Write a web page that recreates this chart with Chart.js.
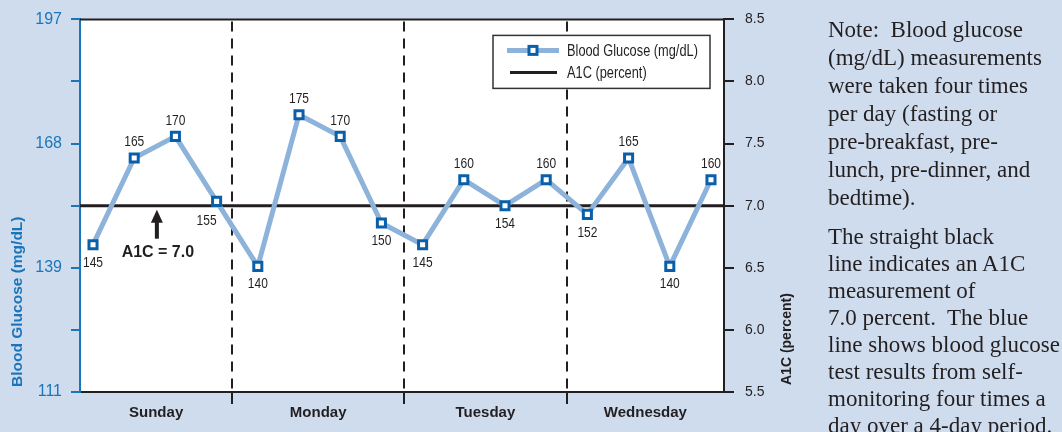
<!DOCTYPE html>
<html><head><meta charset="utf-8">
<script src="https://cdn.jsdelivr.net/npm/chart.js@4.4.1/dist/chart.umd.min.js"></script>
<style>
html,body{margin:0;padding:0;background:#cfdcee;}
#wrap{position:relative;width:1062px;height:432px;overflow:hidden;background:#cfdcee;}
canvas{position:absolute;left:0;top:0;}
.note{position:absolute;left:828px;font-family:'Liberation Serif','Times New Roman',serif;font-size:23px;color:#231f20;white-space:nowrap;}
#p1{top:16px;line-height:28px;}
#p2{top:223px;line-height:27px;}
</style></head><body>
<div id="wrap"><canvas id="c" width="1062" height="432"></canvas>
<div class="note" id="p1">Note:&nbsp; Blood glucose<br>(mg/dL) measurements<br>were taken four times<br>per day (fasting or<br>pre-breakfast, pre-<br>lunch, pre-dinner, and<br>bedtime).</div>
<div class="note" id="p2">The straight black<br>line indicates an A1C<br>measurement of<br>7.0 percent.&nbsp; The blue<br>line shows blood glucose<br>test results from self-<br>monitoring four times a<br>day over a 4-day period.</div>
</div>
<script>
// ---- data ----
const days = ['Sunday', 'Monday', 'Tuesday', 'Wednesday'];
const glucose = [145, 165, 170, 155, 140, 175, 170, 150, 145, 160, 154, 160, 152, 165, 140, 160];
const a1cValue = 7.0;
const a1cTicks = [5.5, 6.0, 6.5, 7.0, 7.5, 8.0, 8.5];
const glucoseTickLabels = ['111', '', '139', '', '168', '', '197'];
const glucoseMin = 111, glucoseMax = 197;
const dayBoundaries = [3.38, 7.55, 11.5];
const annotationText = 'A1C = 7.0';
// label placement (style, not data)
const labelPlacement = ['below','above','above','belowLeft','below','above','above','below','below','above','below','above','below','above','below','above'];

// ---- layout constants ----
const xMin = -0.316, xMax = 15.316;
const annotX = 1.55;
const SANS = "'Liberation Sans', Arial, sans-serif";
const NARROW_SCALE = 0.8;
const BLUE_TXT = '#1b75bb', LINE_BLUE = '#8db3db', MARK_BLUE = '#0a60a8', INK = '#231f20';

const glucoseTickValues = a1cTicks.map(a => glucoseMin + (a - a1cTicks[0]) / (a1cTicks[a1cTicks.length-1] - a1cTicks[0]) * (glucoseMax - glucoseMin));

const centers = [];
const edges = [xMin, ...dayBoundaries, xMax];
for (let i = 0; i < days.length; i++) centers.push((edges[i] + edges[i+1]) / 2);
const xTicks = [], xTickText = [], xTickIsEdge = [];
for (let i = 0; i < days.length; i++) {
  xTicks.push(centers[i]); xTickText.push(days[i]); xTickIsEdge.push(false);
  if (i < dayBoundaries.length) { xTicks.push(dayBoundaries[i]); xTickText.push(''); xTickIsEdge.push(true); }
}

const glucosePoints = glucose.map((v, i) => ({x: i, y: v}));
const a1cPoints = [{x: xMin, y: a1cValue}, {x: xMax, y: a1cValue}];

function narrowText(ctx, text, x, y) {
  ctx.save(); ctx.translate(x, y); ctx.scale(NARROW_SCALE, 1); ctx.fillText(text, 0, 0); ctx.restore();
}

const deco = {
  id: 'deco',
  beforeDraw(chart) {
    const {ctx, chartArea: a} = chart;
    ctx.save(); ctx.fillStyle = '#fff';
    ctx.fillRect(a.left, a.top, a.right - a.left, a.bottom - a.top);
    ctx.restore();
  },
  beforeDatasetsDraw(chart) {
    const {ctx, chartArea: a, scales} = chart;
    ctx.save();
    ctx.strokeStyle = INK; ctx.lineWidth = 2; ctx.setLineDash([10, 7]);
    dayBoundaries.forEach(b => {
      const x = Math.round(scales.x.getPixelForValue(b));
      ctx.beginPath(); ctx.moveTo(x, a.top + 2); ctx.lineTo(x, a.bottom); ctx.stroke();
    });
    ctx.restore();
  },
  afterDatasetsDraw(chart) {
    const {ctx, chartArea: a, scales} = chart;
    ctx.save();
    // data labels
    const meta = chart.getDatasetMeta(0);
    ctx.font = '15px ' + SANS; ctx.fillStyle = INK; ctx.textAlign = 'center'; ctx.textBaseline = 'middle';
    meta.data.forEach((pt, i) => {
      let dx = 0, dy = 18;
      if (labelPlacement[i] === 'above') dy = -16;
      if (labelPlacement[i] === 'belowLeft') { dx = -10; dy = 19; }
      narrowText(ctx, String(glucose[i]), pt.x + dx, pt.y + dy);
    });
    // arrow annotation
    const ax = scales.x.getPixelForValue(annotX);
    const ly = scales.y2.getPixelForValue(a1cValue);
    ctx.fillStyle = INK;
    ctx.beginPath(); ctx.moveTo(ax, ly + 4); ctx.lineTo(ax - 6, ly + 17); ctx.lineTo(ax + 6, ly + 17); ctx.closePath(); ctx.fill();
    ctx.fillRect(ax - 2, ly + 15, 4, 18);
    ctx.font = 'bold 16px ' + SANS;
    ctx.fillText(annotationText, ax + 1, ly + 47);
    // legend
    const lw = 217, lh = 53;
    const lx = a.right - 14 - lw, lt = a.top + 16;
    ctx.fillStyle = '#fff'; ctx.fillRect(lx, lt, lw, lh);
    ctx.strokeStyle = '#333'; ctx.lineWidth = 1.5; ctx.strokeRect(lx, lt, lw, lh);
    const ds = chart.data.datasets;
    let ry = lt + 15;
    ctx.strokeStyle = LINE_BLUE; ctx.lineWidth = 5;
    ctx.beginPath(); ctx.moveTo(lx + 14, ry); ctx.lineTo(lx + 66, ry); ctx.stroke();
    ctx.fillStyle = '#fff'; ctx.fillRect(lx + 36, ry - 4, 8, 8);
    ctx.strokeStyle = MARK_BLUE; ctx.lineWidth = 3; ctx.strokeRect(lx + 36, ry - 4, 8, 8);
    ctx.fillStyle = INK; ctx.font = '16px ' + SANS; ctx.textAlign = 'left'; ctx.textBaseline = 'middle';
    narrowText(ctx, ds[0].label, lx + 74, ry + 1);
    ry = lt + 37;
    ctx.strokeStyle = INK; ctx.lineWidth = 3;
    ctx.beginPath(); ctx.moveTo(lx + 17, ry); ctx.lineTo(lx + 64, ry); ctx.stroke();
    narrowText(ctx, ds[1].label, lx + 74, ry + 1);
    ctx.restore();
  },
  afterDraw(chart) {
    const {ctx, chartArea: a} = chart;
    ctx.save();
    ctx.strokeStyle = INK; ctx.lineWidth = 2;
    ctx.beginPath(); ctx.moveTo(a.left, a.top); ctx.lineTo(a.right, a.top); ctx.stroke();
    ctx.restore();
    // axis titles (both read bottom-to-top)
    ctx.save();
    ctx.translate(a.left - 62, a.bottom - 5); ctx.rotate(-Math.PI / 2);
    ctx.font = 'bold 15.5px ' + SANS; ctx.fillStyle = BLUE_TXT; ctx.textAlign = 'left'; ctx.textBaseline = 'middle';
    ctx.fillText(chart.options.scales.y.title.text, 0, 0);
    ctx.restore();
    ctx.save();
    ctx.translate(a.right + 63, a.bottom - 7); ctx.rotate(-Math.PI / 2);
    ctx.font = 'bold 14px ' + SANS; ctx.fillStyle = INK; ctx.textAlign = 'left'; ctx.textBaseline = 'middle';
    ctx.fillText(chart.options.scales.y2.title.text, 0, 0);
    ctx.restore();
  }
};

new Chart(document.getElementById('c'), {
  type: 'line',
  data: {
    datasets: [
      {label: 'Blood Glucose (mg/dL)', data: glucosePoints, xAxisID: 'x', yAxisID: 'y',
       borderColor: LINE_BLUE, borderWidth: 5, borderJoinStyle: 'round', tension: 0,
       pointStyle: 'rect', pointRadius: 5.7, pointHoverRadius: 5.7, pointBorderWidth: 3,
       pointBorderColor: MARK_BLUE, pointBackgroundColor: '#fff', order: 0},
      {label: 'A1C (percent)', data: a1cPoints, xAxisID: 'x', yAxisID: 'y2',
       borderColor: INK, borderWidth: 3, pointRadius: 0, pointHoverRadius: 0, order: 1}
    ]
  },
  options: {
    responsive: false, animation: false, devicePixelRatio: 1,
    layout: {padding: {top: 18, left: 0, right: 0, bottom: 0}},
    plugins: {legend: {display: false}, tooltip: {enabled: false}},
    events: [],
    scales: {
      x: {
        type: 'linear', min: xMin, max: xMax,
        afterBuildTicks: s => { s.ticks = xTicks.map(v => ({value: v})); },
        afterFit: s => { s.height = 40; },
        ticks: {autoSkip: false, maxRotation: 0, minRotation: 0, padding: 0,
          font: {family: SANS, size: 15, weight: 'bold'}, color: INK,
          callback: (v, i) => xTickText[i]},
        grid: {drawOnChartArea: false, lineWidth: 2, tickLength: 12,
          color: c => xTickIsEdge[c.index] ? INK : 'rgba(0,0,0,0)'},
        border: {display: true, color: INK, width: 2}
      },
      y: {
        position: 'left', min: glucoseMin, max: glucoseMax,
        afterBuildTicks: s => { s.ticks = glucoseTickValues.map(v => ({value: v})); },
        afterFit: s => { s.width = 80; },
        ticks: {autoSkip: false, padding: 9, color: BLUE_TXT, font: {family: SANS, size: 16},
          callback: (v, i) => glucoseTickLabels[i]},
        grid: {drawOnChartArea: false, color: BLUE_TXT, lineWidth: 2, tickLength: 9},
        border: {display: true, color: BLUE_TXT, width: 2},
        title: {display: false, text: 'Blood Glucose (mg/dL)'}
      },
      y2: {
        position: 'right', min: a1cTicks[0], max: a1cTicks[a1cTicks.length - 1],
        afterBuildTicks: s => { s.ticks = a1cTicks.map(v => ({value: v})); },
        afterFit: s => { s.width = 338; },
        ticks: {autoSkip: false, padding: 11, color: INK, font: {family: SANS, size: 14},
          callback: v => Number(v).toFixed(1)},
        grid: {drawOnChartArea: false, color: INK, lineWidth: 2, tickLength: 10},
        border: {display: true, color: INK, width: 2},
        title: {display: false, text: 'A1C (percent)'}
      }
    }
  },
  plugins: [deco]
});
</script>
</body></html>
